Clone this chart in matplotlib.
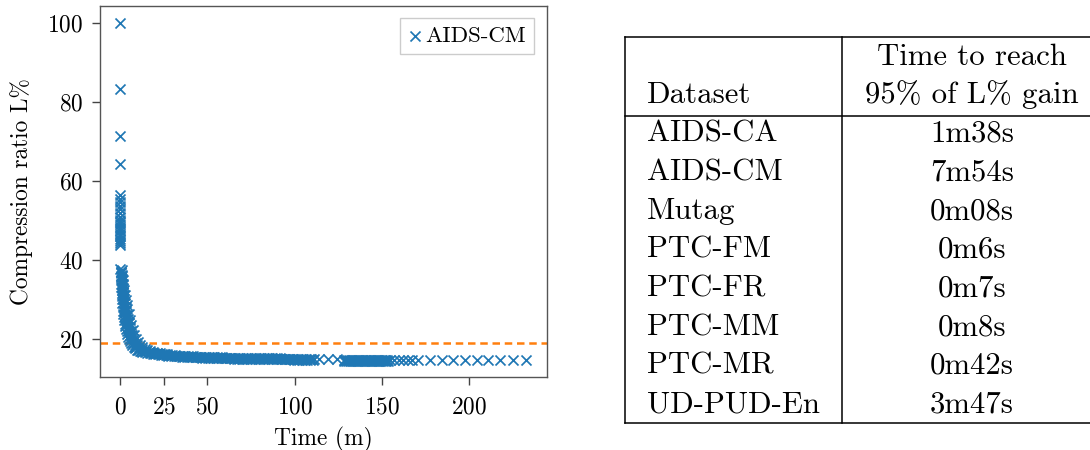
import matplotlib
matplotlib.use("Agg")
import matplotlib.pyplot as plt
from matplotlib.lines import Line2D
import numpy as np

plt.rcParams['font.family'] = 'serif'
plt.rcParams['font.serif'] = ['cmr10', 'DejaVu Serif']
plt.rcParams['axes.formatter.use_mathtext'] = True
plt.rcParams['mathtext.fontset'] = 'cm'

# ---------------- data ----------------
series_label = "AIDS-CM"

head_x = [0.0, 0.0, 0.0, 0.0]
head_y = [100.0, 83.3, 71.4, 64.2]

cluster_x = [0.1, 0.1, 0.1, 0.1, 0.1, 0.1, 0.1, 0.1, 0.2, 0.2, 0.2, 0.2, 0.2, 0.2, 0.2, 0.2, 0.2, 0.2, 0.2]
cluster_y = [56.5, 55.5, 54.6, 53.7, 52.8, 51.8, 50.9, 50.2, 49.6, 49.0, 48.4, 47.8, 47.2, 46.6, 46.0, 45.4, 44.8, 44.2, 43.7]

# left edge of the steep drop
steep_x = [0.3, 0.4, 0.5, 0.6, 0.7, 0.8, 0.9, 1.0, 1.1, 1.2, 1.4, 1.6, 1.8, 2.0, 2.2, 2.5, 2.8, 3.1,
           3.4, 3.8, 4.2, 4.7, 5.2, 5.8, 6.4, 7.1, 7.8, 8.6, 9.5]
steep_y = [37.6, 36.6, 35.7, 34.8, 33.9, 33.1, 32.3, 31.5, 30.8, 30.1, 29.0, 28.0, 27.1, 26.3, 25.6, 24.7,
           23.9, 23.2, 22.6, 21.9, 21.3, 20.6, 20.0, 19.4, 18.9, 18.4, 18.0, 17.6, 17.3]

# inner parts of the steep drop
inner1_x = [0.61, 0.76, 0.91, 1.12, 1.27, 1.46, 1.66, 1.89, 2.23, 2.43, 2.75, 3.08, 3.45, 3.9, 4.33,
            4.95, 5.73, 6.53, 7.73, 8.5, 9.4, 10.7]
inner1_y = [37.0, 36.0, 35.0, 34.0, 33.0, 32.0, 31.0, 30.0, 29.0, 28.0, 27.0, 26.0, 25.0, 24.0, 23.0,
            22.0, 21.0, 20.0, 19.0, 18.5, 18.0, 17.5]
inner2_x = [0.85, 1.06, 1.26, 1.54, 1.73, 1.98, 2.25, 2.57, 3.07, 3.27, 3.67, 4.07, 4.5, 5.02, 5.57,
            6.2, 6.97, 7.87, 9.17, 10.0, 11.0, 12.5]
inner2_y = [37.0, 36.0, 35.0, 34.0, 33.0, 32.0, 31.0, 30.0, 29.0, 28.0, 27.0, 26.0, 25.0, 24.0, 23.0,
            22.0, 21.0, 20.0, 19.0, 18.5, 18.0, 17.5]

# right edge of the steep drop
right_x = [1.0, 1.3, 1.6, 2.0, 2.4, 2.8, 3.3, 3.8, 4.3, 4.9, 5.6, 6.4, 7.3, 8.2, 9.2, 10.3, 11.5, 12.8,
           14.2, 15.7, 17.3, 19.0, 21.0, 23.0, 25.0, 27.0]
right_y = [37.5, 36.2, 35.0, 33.6, 32.3, 31.1, 29.9, 28.7, 27.6, 26.3, 24.9, 23.6, 22.2, 21.0, 20.0,
           19.2, 18.5, 17.9, 17.5, 17.2, 16.95, 16.75, 16.55, 16.4, 16.3, 16.2]

tail_x = [10.5, 12.0, 13.5, 15.0, 16.5, 18.0, 19.5, 21.0, 22.5, 24.0, 25.5, 27.0, 28.5, 30.0, 31.5, 33.0,
          34.5, 36.0, 37.5, 39.0, 40.5, 42.0, 43.5, 45.0, 46.5, 48.0, 49.5, 51.0, 52.5, 54.0, 55.5,
          57.0, 58.5, 60.0, 61.5, 63.0, 64.5, 66.0, 67.5, 69.0, 70.5, 72.0, 73.5, 75.0, 76.5, 78.0,
          79.5, 81.0, 82.5, 84.0, 85.5, 87.0, 88.5, 90.0, 91.5, 93.0, 94.5, 96.0, 97.5, 99.0, 100.5,
          102.0, 103.5, 105.0, 106.5, 108.0, 109.5, 111.0]
tail_y = [17.2, 17.05, 16.95, 16.85, 16.7, 16.55, 16.45, 16.35, 16.25, 16.15, 16.1, 16.0, 15.95, 15.9,
          15.85, 15.8, 15.75, 15.7, 15.68, 15.65, 15.6, 15.58, 15.55, 15.52, 15.5, 15.48, 15.45, 15.43,
          15.4, 15.38, 15.36, 15.34, 15.32, 15.3, 15.29, 15.27, 15.26, 15.24, 15.23, 15.21, 15.2, 15.19,
          15.18, 15.17, 15.16, 15.15, 15.14, 15.13, 15.12, 15.11, 15.1, 15.09, 15.08, 15.07, 15.06,
          15.05, 15.04, 15.03, 15.02, 15.01, 15.0, 14.99, 14.98, 14.97, 14.96, 14.95, 14.94, 14.93]

tail2_x = [11.25, 12.75, 14.25, 15.75, 17.25, 18.75, 20.25, 21.75, 23.25, 24.75, 26.25, 27.75, 29.25,
           30.75, 32.25, 33.75, 35.25, 36.75, 38.25, 39.75, 41.25, 42.75, 44.25, 45.75, 47.25, 48.75,
           50.25, 51.75, 53.25, 54.75, 56.25, 57.75, 59.25, 60.75, 62.25, 63.75, 65.25, 66.75, 68.25,
           69.75, 71.25, 72.75, 74.25, 75.75, 77.25, 78.75, 80.25, 81.75, 83.25, 84.75, 86.25, 87.75,
           89.25, 90.75, 92.25, 93.75, 95.25, 96.75, 98.25, 99.75, 101.25, 102.75, 104.25, 105.75,
           107.25, 108.75, 110.25]
tail2_y = [16.9, 16.8, 16.7, 16.55, 16.4, 16.3, 16.2, 16.1, 16.0, 15.93, 15.85, 15.78, 15.72,
           15.67, 15.62, 15.58, 15.53, 15.49, 15.46, 15.43, 15.39, 15.37, 15.34, 15.31, 15.29, 15.26,
           15.24, 15.22, 15.19, 15.17, 15.15, 15.13, 15.11, 15.1, 15.08, 15.06, 15.05, 15.03, 15.02,
           15.0, 14.99, 14.98, 14.97, 14.96, 14.95, 14.94, 14.93, 14.92, 14.91, 14.9, 14.89, 14.88,
           14.87, 14.86, 14.85, 14.84, 14.83, 14.82, 14.81, 14.8, 14.79, 14.78, 14.77, 14.76,
           14.75, 14.74, 14.73]

gap_x = [114.0, 119.0, 124.0]
gap_y = [14.95, 14.9, 14.85]

late_x = [128.0, 129.0, 130.0, 131.0, 132.0, 133.0, 134.0, 135.0, 136.0, 137.0, 138.0, 139.0, 140.0,
          141.0, 142.0, 143.0, 144.0, 145.0, 146.0, 147.0, 148.0, 149.0, 150.0, 151.0, 152.0, 153.0,
          154.5, 157.0, 159.6, 162.2, 164.8, 167.4]
late_y = [14.68, 14.67, 14.67, 14.66, 14.66, 14.65, 14.65, 14.64, 14.64, 14.63, 14.63, 14.62, 14.62,
          14.62, 14.61, 14.61, 14.6, 14.6, 14.6, 14.6, 14.59, 14.59, 14.59, 14.58, 14.58, 14.58,
          14.58, 14.6, 14.6, 14.6, 14.62, 14.62]

late2_x = [128.5, 129.5, 130.5, 131.5, 132.5, 133.5, 134.5, 135.5, 136.5, 137.5, 138.5, 139.5, 140.5,
           141.5, 142.5, 143.5, 144.5, 145.5, 146.5, 147.5, 148.5, 149.5, 150.5, 151.5, 152.5, 153.5]
late2_y = [14.52, 14.52, 14.51, 14.51, 14.5, 14.5, 14.5, 14.49, 14.49, 14.49, 14.48, 14.48, 14.48,
           14.47, 14.47, 14.47, 14.46, 14.46, 14.46, 14.46, 14.45, 14.45, 14.45, 14.45, 14.44, 14.44]

sparse_x = [170.8, 177.5, 184.2, 190.8, 197.5, 204.2, 210.9, 217.6, 224.8, 232.5]
sparse_y = [14.65, 14.65, 14.65, 14.65, 14.65, 14.65, 14.65, 14.65, 14.65, 14.65]

threshold = 19.1

x_ticks = [0, 25, 50, 100, 150, 200]
y_ticks = [20, 40, 60, 80, 100]

table_header_left = "Dataset"
table_header_right = ["Time to reach", "95% of L% gain"]
datasets = ["AIDS-CA", "AIDS-CM", "Mutag", "PTC-FM", "PTC-FR", "PTC-MM", "PTC-MR", "UD-PUD-En"]
times = ["1m38s", "7m54s", "0m08s", "0m6s", "0m7s", "0m8s", "0m42s", "3m47s"]

# ---------------- figure ----------------
W, H = 1090, 450
fig = plt.figure(figsize=(W / 100, H / 100), dpi=100)


def fx(px):
    return px / W


def fy(py):
    return 1 - py / H


ax = fig.add_axes([fx(99.7), fy(376.7), fx(546.7) - fx(99.7), fy(5.7) - fy(376.7)])

all_x = np.concatenate([head_x, cluster_x, steep_x, inner1_x, inner2_x, right_x, tail_x, tail2_x,
                        gap_x, late_x, late2_x, sparse_x])
all_y = np.concatenate([head_y, cluster_y, steep_y, inner1_y, inner2_y, right_y, tail_y, tail2_y,
                        gap_y, late_y, late2_y, sparse_y])

ax.scatter(all_x, all_y, marker='x', s=52, linewidths=1.25, color='#1f77b4', label=series_label, zorder=3)
ax.axhline(threshold, color='#ff7f0e', linestyle=(0, (3.0, 1.9)), linewidth=1.8, zorder=2)

ax.set_xlim(-11.6, 244.3)
ax.set_ylim(10.45, 104.3)
ax.set_xticks(x_ticks)
ax.set_yticks(y_ticks)
ax.tick_params(axis='both', labelsize=16.8, length=6, width=1.0, color='#444444', direction='out')
ax.tick_params(axis='x', pad=8.0)
ax.tick_params(axis='y', pad=6.0)
for sp in ax.spines.values():
    sp.set_color('#555555')
    sp.set_linewidth(1.0)
ax.set_xlabel("Time (m)", fontsize=16.8, labelpad=6)
ax.set_ylabel("Compression ratio L%", fontsize=16.8, labelpad=10)

leg = ax.legend(loc='upper right', fontsize=16.5, scatterpoints=1, handlelength=0.6,
                handletextpad=0.15, borderpad=0.35, borderaxespad=0.55, fancybox=False,
                framealpha=1.0, edgecolor='#cccccc')
leg.get_frame().set_linewidth(1.0)

# ---------------- table ----------------
tbl_left, tbl_div, tbl_right = 625, 842.3, 1110
tbl_top, tbl_head, tbl_bottom = 36.7, 115.7, 423.3
line_kw = dict(color='black', linewidth=1.1, transform=fig.transFigure)
fig.add_artist(Line2D([fx(tbl_left), fx(tbl_right)], [fy(tbl_top), fy(tbl_top)], **line_kw))
fig.add_artist(Line2D([fx(tbl_left), fx(tbl_right)], [fy(tbl_head), fy(tbl_head)], **line_kw))
fig.add_artist(Line2D([fx(tbl_left), fx(tbl_right)], [fy(tbl_bottom), fy(tbl_bottom)], **line_kw))
fig.add_artist(Line2D([fx(tbl_left), fx(tbl_left)], [fy(tbl_top), fy(tbl_bottom)], **line_kw))
fig.add_artist(Line2D([fx(tbl_div), fx(tbl_div)], [fy(tbl_top), fy(tbl_bottom)], **line_kw))

tfs = 22.2
col2_center = 972
fig.text(fx(647), fy(103.3), table_header_left, fontsize=tfs, ha='left', va='baseline')
fig.text(fx(col2_center), fy(65), table_header_right[0], fontsize=tfs, ha='center', va='baseline')
fig.text(fx(col2_center), fy(103.3), table_header_right[1], fontsize=tfs, ha='center', va='baseline')
for i, (d, t) in enumerate(zip(datasets, times)):
    base = 141.7 + 38.7 * i
    fig.text(fx(647), fy(base), d, fontsize=tfs, ha='left', va='baseline')
    fig.text(fx(col2_center), fy(base), t, fontsize=tfs, ha='center', va='baseline')

fig.savefig("out.png", dpi=100)
